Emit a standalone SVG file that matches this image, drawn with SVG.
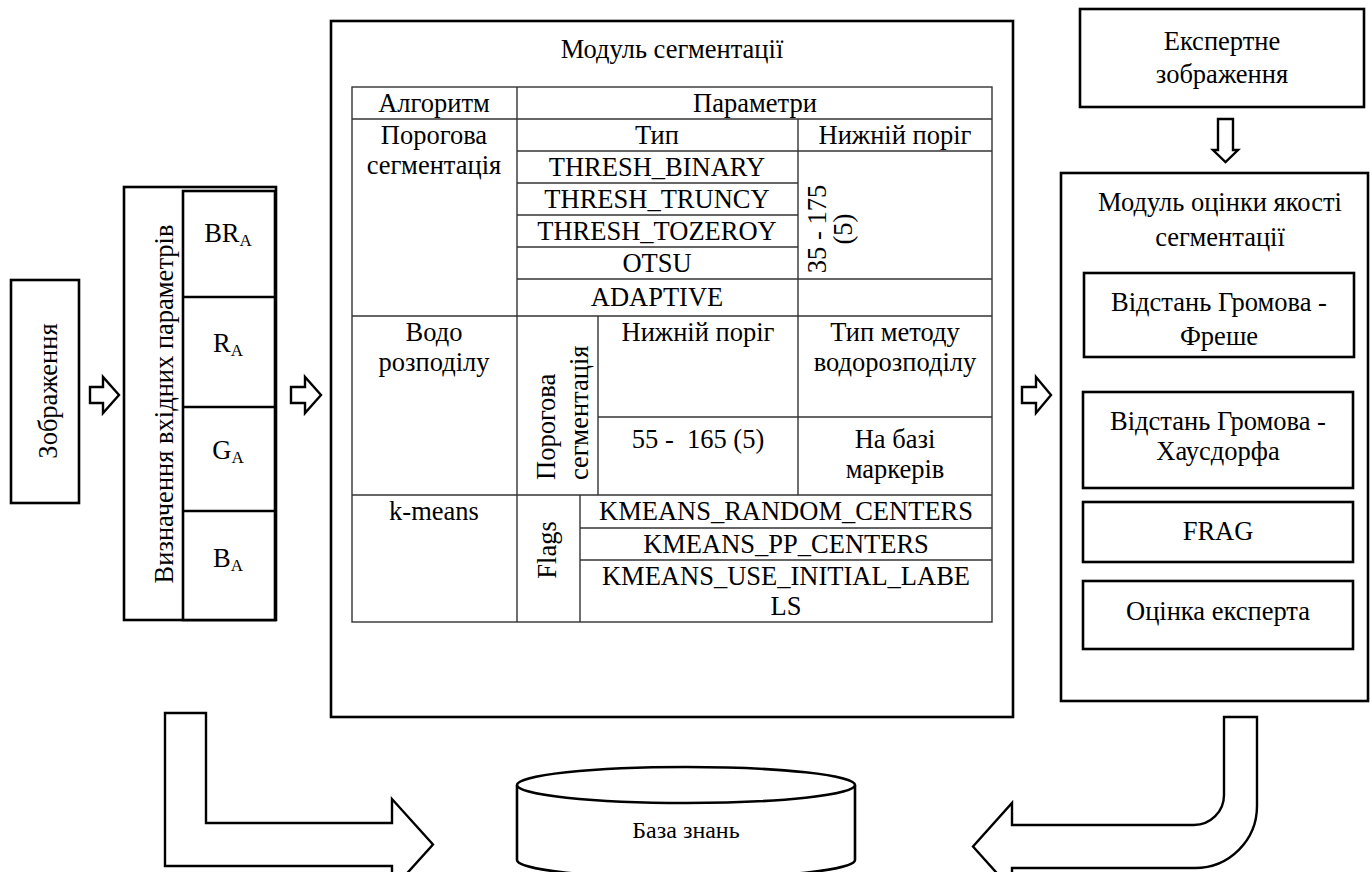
<svg xmlns="http://www.w3.org/2000/svg" width="1370" height="872" viewBox="0 0 1370 872">
  <style>
    text { font-family: "Liberation Serif", "Times New Roman", serif; font-size: 26.5px; fill: #000; text-anchor: middle; }
    .box { fill: #fff; stroke: #000; stroke-width: 2.6; }
    .grid { fill: none; stroke: #333; stroke-width: 1.4; }
    .arrow { fill: #fff; stroke: #000; stroke-width: 2.4; stroke-linejoin: miter; }
    .sub { font-size: 17px; }
    .pre { white-space: pre; }
  </style>
  <rect width="1370" height="872" fill="#fff"/>

  <!-- input image -->
  <g id="image">
    <rect class="box" x="11" y="280" width="68" height="223"/>
    <text transform="translate(57 391) rotate(-90)">Зображення</text>
  </g>

  <!-- input parameter block -->
  <g id="params">
    <rect class="box" x="124" y="187" width="152" height="433"/>
    <rect class="box" x="183" y="191" width="92" height="429"/>
    <line class="box" x1="183" y1="297" x2="275" y2="297"/>
    <line class="box" x1="183" y1="407" x2="275" y2="407"/>
    <line class="box" x1="183" y1="511" x2="275" y2="511"/>
    <text transform="translate(173 404) rotate(-90)">Визначення вхідних параметрів</text>
    <text x="228" y="242">BR<tspan class="sub" dy="4">A</tspan></text>
    <text x="228" y="352">R<tspan class="sub" dy="4">A</tspan></text>
    <text x="228" y="459">G<tspan class="sub" dy="4">A</tspan></text>
    <text x="228" y="567">B<tspan class="sub" dy="4">A</tspan></text>
  </g>

  <!-- segmentation module -->
  <g id="segmentation">
    <rect class="box" x="331" y="21" width="682" height="696"/>
    <text x="672" y="58">Модуль сегментації</text>
    <g class="grid">
      <rect x="352" y="87" width="640" height="535"/>
      <line x1="352" y1="119" x2="992" y2="119"/>
      <line x1="517" y1="151" x2="992" y2="151"/>
      <line x1="517" y1="183" x2="798" y2="183"/>
      <line x1="517" y1="215" x2="798" y2="215"/>
      <line x1="517" y1="247" x2="798" y2="247"/>
      <line x1="517" y1="279" x2="992" y2="279"/>
      <line x1="352" y1="316" x2="992" y2="316"/>
      <line x1="598" y1="417" x2="992" y2="417"/>
      <line x1="352" y1="495" x2="992" y2="495"/>
      <line x1="580" y1="528" x2="992" y2="528"/>
      <line x1="580" y1="560" x2="992" y2="560"/>
      <line x1="517" y1="87" x2="517" y2="622"/>
      <line x1="798" y1="119" x2="798" y2="495"/>
      <line x1="598" y1="316" x2="598" y2="495"/>
      <line x1="580" y1="495" x2="580" y2="622"/>
    </g>
    <text x="434" y="112">Алгоритм</text>
    <text x="755" y="112">Параметри</text>
    <text x="434" y="144">Порогова</text>
    <text x="434" y="174">сегментація</text>
    <text x="657" y="144">Тип</text>
    <text x="895" y="144">Нижній поріг</text>
    <text x="657" y="176">THRESH_BINARY</text>
    <text x="657" y="208">THRESH_TRUNCY</text>
    <text x="657" y="240">THRESH_TOZEROY</text>
    <text x="657" y="272">OTSU</text>
    <text x="657" y="306">ADAPTIVE</text>
    <text transform="translate(826 229) rotate(-90)">35 - 175</text>
    <text transform="translate(852 229) rotate(-90)">(5)</text>
    <text x="434" y="341">Водо</text>
    <text x="434" y="371">розподілу</text>
    <text transform="translate(555 480) rotate(-90)" style="text-anchor:start">Порогова</text>
    <text transform="translate(588 480) rotate(-90)" style="text-anchor:start">сегментація</text>
    <text x="698" y="341">Нижній поріг</text>
    <text x="895" y="341">Тип методу</text>
    <text x="895" y="371">водорозподілу</text>
    <text class="pre" x="698" y="448">55 -  165 (5)</text>
    <text x="895" y="448">На базі</text>
    <text x="895" y="478">маркерів</text>
    <text x="434" y="520">k-means</text>
    <text transform="translate(556 550) rotate(-90)">Flags</text>
    <text x="786" y="520">KMEANS_RANDOM_CENTERS</text>
    <text x="786" y="553">KMEANS_PP_CENTERS</text>
    <text x="786" y="585">KMEANS_USE_INITIAL_LABE</text>
    <text x="786" y="615">LS</text>
  </g>

  <!-- expert image -->
  <g id="expert">
    <rect class="box" x="1080" y="9" width="284" height="98"/>
    <text x="1222" y="50">Експертне</text>
    <text x="1222" y="83">зображення</text>
  </g>

  <!-- quality evaluation module -->
  <g id="quality">
    <rect class="box" x="1061" y="173" width="307" height="528"/>
    <text x="1220" y="211">Модуль оцінки якості</text>
    <text x="1220" y="246">сегментації</text>
    <rect class="box" x="1084" y="273" width="270" height="84"/>
    <text x="1219" y="311">Відстань Громова -</text>
    <text x="1219" y="345">Фреше</text>
    <rect class="box" x="1083" y="392" width="270" height="96"/>
    <text x="1218" y="430">Відстань Громова -</text>
    <text x="1218" y="460">Хаусдорфа</text>
    <rect class="box" x="1083" y="502" width="270" height="60"/>
    <text x="1218" y="540">FRAG</text>
    <rect class="box" x="1083" y="581" width="270" height="68"/>
    <text x="1218" y="620">Оцінка експерта</text>
  </g>

  <!-- knowledge base -->
  <g id="knowledge-base">
    <path class="box" d="M517,785 L517,860 A169,18 0 0 0 855,860 L855,785"/>
    <ellipse class="box" cx="686" cy="785" rx="169" ry="18"/>
    <text x="686" y="838" style="font-size:24px">База знань</text>
  </g>

  <!-- connectors -->
  <g id="connectors">
    <path class="arrow" d="M90,387 L103,387 L103,377 L119,395 L103,413 L103,403 L90,403 Z"/>
    <path class="arrow" d="M291,387 L305,387 L305,377 L321,395 L305,413 L305,403 L291,403 Z"/>
    <path class="arrow" d="M1022,387 L1036,387 L1036,377 L1051,395 L1036,413 L1036,403 L1022,403 Z"/>
    <path class="arrow" d="M1218,119 L1233,119 L1233,150 L1238,150 L1225.5,162 L1213,150 L1218,150 Z"/>
    <path class="arrow" d="M165,713 L206,713 L206,823 L392,823 L392,799 L433,844.5 L392,890 L392,866 L165,866 Z"/>
    <path class="arrow" d="M1224,717 L1257,717 L1257,806 A62,62 0 0 1 1195,868 L1012,868 L1012,890 L973,846.5 L1012,803 L1012,825 L1194,825 A30,30 0 0 0 1224,795 Z"/>
  </g>
</svg>
